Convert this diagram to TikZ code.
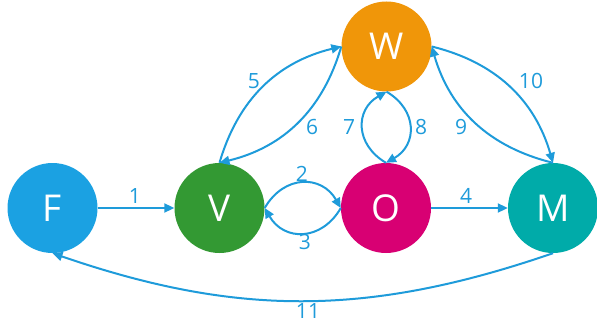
\documentclass[tikz,border=0pt]{standalone}
\usepackage{fontspec}
\setmainfont{Open Sans}
\usetikzlibrary{arrows.meta}
\definecolor{cF}{HTML}{1BA1E2}
\definecolor{cV}{HTML}{339933}
\definecolor{cO}{HTML}{D80073}
\definecolor{cM}{HTML}{00ABA9}
\definecolor{cW}{HTML}{F09609}
\definecolor{cE}{HTML}{1E9BDA}
\tikzset{
  state/.style={circle, minimum size=90pt, inner sep=0pt, text=white,
    font=\fontsize{37}{40}\selectfont},
  edge/.style={draw=cE, line width=2pt, -{Triangle[length=10pt,width=9pt]}},
  lbl/.style={text=cE, inner sep=0pt, font=\fontsize{21}{24}\selectfont},
}
\begin{document}
\begin{tikzpicture}[x=1pt,y=-1pt]
\useasboundingbox (0,0) rectangle (597,329);
\node[state, fill=cF] (F) at (52.5,208) {F};
\node[state, fill=cV] (V) at (219.5,208) {V};
\node[state, fill=cO] (O) at (386,208) {O};
\node[state, fill=cM] (M) at (553,208) {M};
\node[state, fill=cW] (W) at (386.5,46.5) {W};
% edges
\draw[edge] (F) -- (V);
\draw[edge] (V.east) to[bend left=60, looseness=1.3] (O.west);
\draw[edge] (O.west) to[bend left=60, looseness=1.3] (V.east);
\draw[edge] (O) -- (M);
\draw[edge] (V.north) to[bend left=30] (W.west);
\draw[edge] (W.west) to[bend left=30] (V.north);
\draw[edge] (O.north) to[bend left=60, looseness=1.3] (W.south);
\draw[edge] (W.south) to[bend left=60, looseness=1.3] (O.north);
\draw[edge] (M.north) to[bend left=30] (W.east);
\draw[edge] (W.east) to[bend left=30] (M.north);
\draw[edge] (M.south) to[bend left=19] (F.south);
% labels
\node[lbl] (l1) at (135,196) {1};
\node[lbl] (l2) at (302,174) {2};
\node[lbl] (l3) at (305,242) {3};
\node[lbl] (l4) at (466,196) {4};
\node[lbl] (l5) at (254,81) {5};
\node[lbl] (l6) at (312,127) {6};
\node[lbl] (l7) at (349,127) {7};
\node[lbl] (l8) at (421,127) {8};
\node[lbl] (l9) at (461,127) {9};
\node[lbl] (l10) at (531,81) {10};
\node[lbl] (l11) at (308,311) {11};
\end{tikzpicture}
\end{document}
